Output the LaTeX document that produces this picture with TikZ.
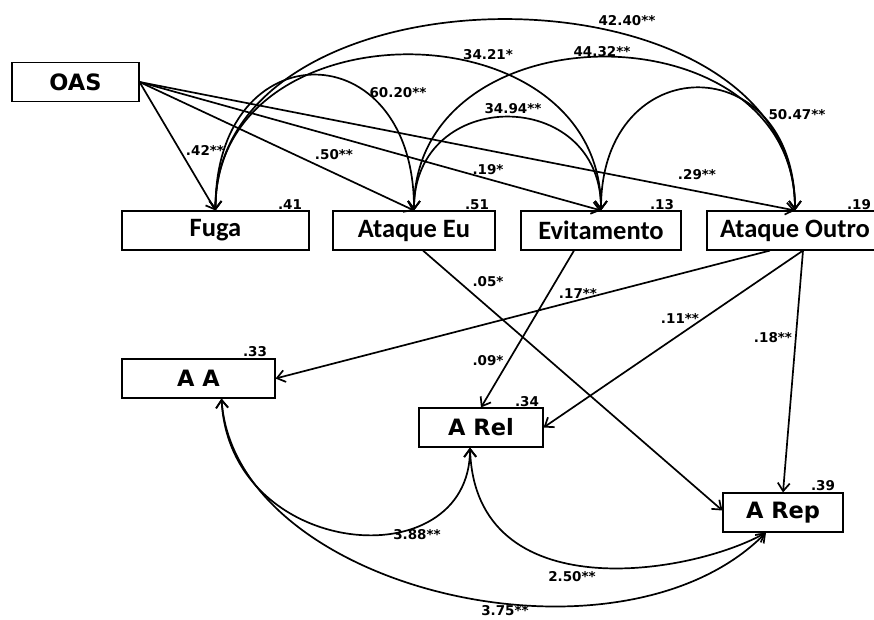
\documentclass[tikz,border=0pt]{standalone}
\usepackage{fontspec}
\setmainfont{DejaVu Sans}
\newfontfamily\calib{Carlito}
\usetikzlibrary{arrows.meta,calc}
\tikzset{
  obs/.style={rectangle, draw=black, line width=1.1pt, minimum height=39pt, inner sep=0pt, font=\fontsize{22.5}{26}\selectfont\bfseries},
  med/.style={rectangle, draw=black, line width=1.1pt, minimum height=39pt, inner sep=0pt, font=\fontsize{26.5}{30}\selectfont\calib\bfseries},
  coef/.style={inner sep=0pt, font=\fontsize{13.5}{15}\selectfont\bfseries},
  line/.style={draw, line width=1.7pt, ->},
  cov/.style={draw, line width=1.7pt, <->},
}

\begin{document}
\begin{tikzpicture}[x=1pt,y=-1pt,>={Straight Barb[length=8pt,width=12pt]}]
    \useasboundingbox (0,0) rectangle (874,619);

    % predictor and mediators
    \node[obs,minimum width=127pt] (oas) at (75.5,82) {OAS};
    \node[med,minimum width=187pt] (fuga) at (215.5,230.5) {Fuga};
    \node[med,minimum width=162pt] (ateu) at (414,230.5) {Ataque Eu};
    \node[med,minimum width=160pt] (evit) at (601,230.5) {Evitamento};
    \node[med,minimum width=176pt] (atout) at (795,230.5) {Ataque Outro};

    % outcomes
    \node[obs,minimum width=153pt] (aa) at (198.5,378.5) {A A};
    \node[obs,minimum width=124pt] (arel) at (481,427.5) {A Rel};
    \node[obs,minimum width=120pt] (arep) at (783,512.5) {A Rep};

    % explained variance
    \node[coef] (r2fuga) at (290,205) {.41};
    \node[coef] (r2ateu) at (477,205) {.51};
    \node[coef] (r2evit) at (662,205) {.13};
    \node[coef] (r2atout) at (859,205) {.19};
    \node[coef] (r2aa) at (255,352) {.33};
    \node[coef] (r2arel) at (527,402) {.34};
    \node[coef] (r2arep) at (823,486) {.39};

    % OAS -> mediators
    \path[line] (oas.east) -- (fuga.north);
    \path[line] (oas.east) -- (ateu.north);
    \path[line] (oas.east) -- (evit.north);
    \path[line] (oas.east) -- (atout.north);
    \node[coef] (b1) at (205,150) {.42**};
    \node[coef] (b2) at (334,155) {.50**};
    \node[coef] (b3) at (488,170) {.19*};
    \node[coef] (b4) at (697,175) {.29**};

    % covariances between mediators
    \path[cov] (fuga.north) .. controls (215,30) and (414,30) .. (ateu.north);
    \path[cov] (fuga.north) .. controls (215,3) and (601,3) .. (evit.north);
    \path[cov] (fuga.north) .. controls (215,-44) and (795,-44) .. (atout.north);
    \path[cov] (ateu.north) .. controls (414,86) and (601,86) .. (evit.north);
    \path[cov] (ateu.north) .. controls (414,6) and (795,6) .. (atout.north);
    \path[cov] (evit.north) .. controls (601,47) and (795,47) .. (atout.north);
    \node[coef] (c1) at (398,93) {60.20**};
    \node[coef] (c2) at (488,55) {34.21*};
    \node[coef] (c3) at (627,21) {42.40**};
    \node[coef] (c4) at (513,109) {34.94**};
    \node[coef] (c5) at (602,52) {44.32**};
    \node[coef] (c6) at (797,115) {50.47**};

    % mediators -> outcomes
    \path[line] ([xshift=9pt]ateu.south) -- ([yshift=2pt]arep.west);
    \path[line] ([xshift=-27pt]evit.south) -- (arel.north);
    \path[line] ([xshift=-25pt]atout.south) -- (aa.east);
    \path[line] ([xshift=8pt]atout.south) -- (arel.east);
    \path[line] ([xshift=8pt]atout.south) -- (arep.north);
    \node[coef] (d1) at (488,282) {.05*};
    \node[coef] (d2) at (488,361) {.09*};
    \node[coef] (d3) at (578,293) {.17**};
    \node[coef] (d4) at (680,318) {.11**};
    \node[coef] (d5) at (773,338) {.18**};

    % covariances between outcomes
    \path[cov] ([xshift=23pt]aa.south) .. controls (230,560) and (470,580) .. ([xshift=-11pt]arel.south);
    \path[cov] ([xshift=23pt]aa.south) .. controls (235,590) and (620,680) .. ([xshift=-17pt]arep.south);
    \path[cov] ([xshift=-11pt]arel.south) .. controls (475,610) and (690,575) .. ([xshift=-17pt]arep.south);
    \node[coef] (e1) at (417,535) {3.88**};
    \node[coef] (e2) at (572,577) {2.50**};
    \node[coef] (e3) at (505,611) {3.75**};
\end{tikzpicture}
\end{document}
